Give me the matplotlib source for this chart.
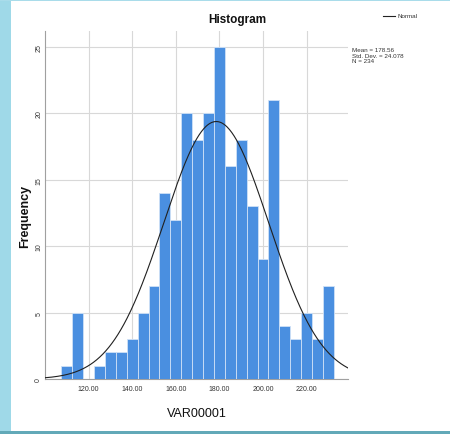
import numpy as np
import matplotlib
matplotlib.use("Agg")
import matplotlib.pyplot as plt
from matplotlib import font_manager
from matplotlib.patches import Rectangle

# ---- data ----
bin_start = 107.5
bin_width = 5.0
counts = [1, 5, 0, 1, 2, 2, 3, 5, 7, 14, 12, 20, 18, 20, 25, 16, 18, 13, 9, 21, 4, 3, 5, 3, 7]
mean = 178.56
std = 24.078
n_obs = 234
x_ticks = [120, 140, 160, 180, 200, 220]
y_ticks = [0, 5, 10, 15, 20, 25]

names = {f.name for f in font_manager.fontManager.ttflist}
fam = "Liberation Sans Narrow" if "Liberation Sans Narrow" in names else "Liberation Sans"
plt.rcParams['font.family'] = [fam, 'DejaVu Sans']

fig = plt.figure(figsize=(4.5, 4.35), dpi=100)
fig.patch.set_facecolor('white')

# frame decorations
fig.add_artist(Rectangle((0, 0), 11/450, 1, transform=fig.transFigure,
                         facecolor='#9fd9e8', edgecolor='none', zorder=0))
fig.add_artist(Rectangle((0, 1 - 2/435), 1, 2/435, transform=fig.transFigure,
                         facecolor='#a9dcea', edgecolor='none', zorder=0))
fig.add_artist(Rectangle((0, 0), 1, 3/435, transform=fig.transFigure,
                         facecolor='#62a9b8', edgecolor='none', zorder=0))

ax = fig.add_axes([45/450, 55/435, 303/450, 348/435])
edges = bin_start + bin_width * np.arange(len(counts) + 1)
ax.bar(edges[:-1], counts, width=bin_width, align='edge', color='#4a8fe0',
       edgecolor='#cfe1f7', linewidth=0.6, zorder=3)

xs = np.linspace(100, 239, 400)
pdf = n_obs * bin_width / (std * np.sqrt(2 * np.pi)) * np.exp(-0.5 * ((xs - mean) / std) ** 2)
ax.plot(xs, pdf, color='#202020', linewidth=0.8, zorder=4)

ax.set_xlim(100, 239)
ax.set_ylim(0, 26.2)
ax.set_xticks(x_ticks)
ax.set_xticklabels([f"{v:.2f}" for v in x_ticks], fontsize=5, color='#333333')
ax.set_yticks(y_ticks)
ax.set_yticklabels([str(v) for v in y_ticks], fontsize=5, color='#333333', rotation=90, va='center')
ax.tick_params(axis='x', length=0, pad=4)
ax.tick_params(axis='y', length=0, pad=2)
ax.grid(True, color='#d8d8d8', linewidth=0.8, zorder=0)
ax.set_axisbelow(True)
for s in ['top', 'right']:
    ax.spines[s].set_visible(False)
for s in ['left', 'bottom']:
    ax.spines[s].set_color('#a0a0a0')
    ax.spines[s].set_linewidth(0.8)

ax.set_xlabel("VAR00001", fontsize=9, labelpad=11, color='#111111')
ax.set_ylabel("Frequency", fontsize=9, fontweight='bold', color='#111111')
ax.yaxis.set_label_coords(-0.046, 0.47)

fig.text(237/450, 1 - 20/435, "Histogram", fontsize=8.5, fontweight='bold',
         ha='center', va='center', color='#111111')
fig.lines.append(plt.Line2D([383/450, 395/450], [1 - 17/435, 1 - 17/435],
                            transform=fig.transFigure, color='#222222', linewidth=0.8))
fig.text(397/450, 1 - 17/435, "Normal", fontsize=4.5, ha='left', va='center', color='#333333')
fig.text(352/450, 1 - 56/435, f"Mean = {mean:.2f}\nStd. Dev. = {std:.3f}\nN = {n_obs}",
         fontsize=4.5, ha='left', va='center', color='#333333', linespacing=1.1)

fig.savefig("out.png", dpi=100)
